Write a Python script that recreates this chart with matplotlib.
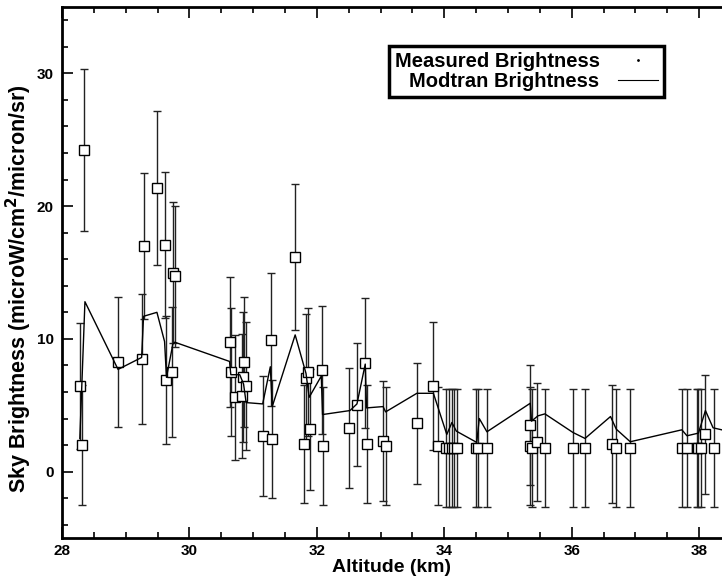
import matplotlib
matplotlib.use("Agg")
import matplotlib.pyplot as plt
from matplotlib.ticker import MultipleLocator
from matplotlib.lines import Line2D

plt.rcParams['font.family'] = ['Liberation Sans', 'DejaVu Sans']
plt.rcParams['font.weight'] = 'bold'

# Measured brightness (altitude km, brightness, symmetric error)
meas_x = [28.28, 28.31, 28.35, 28.88, 29.25, 29.28, 29.49, 29.62, 29.64, 29.72,
          29.74, 29.77, 30.63, 30.65, 30.72, 30.82, 30.84, 30.86, 30.89, 31.15,
          31.28, 31.30, 31.66, 31.80, 31.83, 31.86, 31.89, 32.08, 32.09, 32.51,
          32.63, 32.76, 32.78, 33.04, 33.08, 33.58, 33.82, 33.90, 34.03, 34.08,
          34.12, 34.15, 34.20, 34.50, 34.53, 34.67, 35.34, 35.34, 35.37, 35.46,
          35.58, 36.02, 36.21, 36.63, 36.70, 36.92, 37.73, 37.81, 37.96, 37.99,
          38.03, 38.09, 38.24]
meas_y = [6.45, 2.0, 24.2, 8.25, 8.5, 17.0, 21.4, 17.1, 6.9, 7.5,
          15.0, 14.7, 9.75, 7.5, 5.6, 5.7, 7.1, 8.25, 6.45, 2.7,
          9.95, 2.45, 16.2, 2.05, 7.05, 7.5, 3.2, 7.65, 1.9, 3.3,
          5.05, 8.2, 2.1, 2.3, 1.9, 3.65, 6.45, 1.9, 1.8, 1.8,
          1.8, 1.8, 1.8, 1.8, 1.8, 1.8, 3.5, 1.95, 1.8, 2.2,
          1.8, 1.75, 1.75, 2.05, 1.75, 1.75, 1.75, 1.75, 1.75, 1.75,
          1.75, 2.8, 1.75]
meas_err = [4.75, 4.5, 6.1, 4.9, 4.9, 5.5, 5.8, 5.5, 4.8, 4.9,
            5.3, 5.3, 4.9, 4.85, 4.7, 4.7, 4.9, 4.9, 4.8, 4.5,
            5.0, 4.45, 5.5, 4.45, 4.85, 4.85, 4.55, 4.85, 4.45, 4.5,
            4.65, 4.9, 4.45, 4.5, 4.45, 4.55, 4.8, 4.45, 4.45, 4.45,
            4.45, 4.45, 4.45, 4.45, 4.45, 4.45, 4.5, 4.45, 4.45, 4.45,
            4.45, 4.45, 4.45, 4.45, 4.45, 4.45, 4.45, 4.45, 4.45, 4.45,
            4.45, 4.5, 4.45]

# Modtran model brightness
mod_x = [28.28, 28.36, 28.88, 29.25, 29.28, 29.49, 29.61, 29.64, 29.74, 29.77,
         30.63, 30.65, 30.79, 30.85, 30.89, 31.15, 31.27, 31.30, 31.66, 31.83,
         31.88, 32.07, 32.09, 32.52, 32.63, 32.76, 32.78, 33.04, 33.08, 33.57,
         33.83, 34.04, 34.12, 34.19, 34.51, 34.55, 34.67, 35.35, 35.37, 35.47,
         35.58, 36.02, 36.21, 36.61, 36.70, 36.92, 37.73, 37.81, 37.99, 38.10,
         38.22, 38.40]
mod_y = [2.5, 12.8, 7.7, 8.6, 11.7, 12.0, 9.8, 7.1, 9.6, 9.75,
         8.3, 7.3, 7.3, 6.6, 5.2, 5.1, 7.9, 4.9, 10.3, 7.4,
         5.6, 7.2, 4.3, 4.6, 5.1, 8.1, 4.8, 4.9, 4.5, 5.9,
         5.9, 2.8, 3.7, 3.05, 2.2, 4.0, 3.0, 5.15, 3.8, 4.2,
         4.35, 2.95, 2.5, 4.15, 3.2, 2.25, 3.15, 2.7, 2.9, 4.6,
         3.3, 3.1]

x_ticks = [28, 30, 32, 34, 36, 38]
y_ticks = [0, 10, 20, 30]

fig = plt.figure(figsize=(7.22, 5.82), dpi=100)
ax = fig.add_axes([62/722, 44/582, 660/722, 531/582])

ax.errorbar(meas_x, meas_y, yerr=meas_err, fmt='none', ecolor='#222222',
            elinewidth=1.0, capsize=3, capthick=1.0, zorder=2)
ax.plot(meas_x, meas_y, linestyle='none', marker='s', markersize=6.5,
        markerfacecolor='white', markeredgecolor='black', markeredgewidth=1.0,
        zorder=3)
ax.plot(mod_x, mod_y, color='black', linewidth=1.0, zorder=4)

ax.set_xlim(28, 38.36)
ax.set_ylim(-5, 35)
ax.set_xticks(x_ticks)
ax.set_yticks(y_ticks)
ax.xaxis.set_minor_locator(MultipleLocator(0.5))
ax.yaxis.set_minor_locator(MultipleLocator(2))
ax.tick_params(which='both', direction='in', top=True, right=False,
               labelsize=11, width=1.2)
ax.tick_params(which='major', length=8)
ax.tick_params(which='minor', length=4)
ax.tick_params(axis='y', pad=6)
ax.tick_params(axis='x', pad=4)
for lab in ax.get_xticklabels() + ax.get_yticklabels():
    lab.set_fontweight('bold')

for s in ['left', 'bottom', 'top']:
    ax.spines[s].set_linewidth(2.0)
ax.spines['right'].set_visible(False)

ax.set_xlabel('Altitude (km)', fontsize=14, fontweight='bold', labelpad=1)
ax.set_ylabel('Sky Brightness (microW/cm$^\\mathbf{2}$/micron/sr)', fontsize=15.5,
              fontweight='bold')
ax.yaxis.set_label_coords(-28/660, 0.47)

h1 = Line2D([], [], linestyle='none', marker='.', markersize=2, color='black')
h2 = Line2D([], [], color='black', linewidth=0.8)
leg = ax.legend([h1, h2], ['Measured Brightness', 'Modtran Brightness'],
                loc='upper right', bbox_to_anchor=((664-62)/660, (538-46)/531),
                markerfirst=False, fancybox=False, framealpha=1,
                edgecolor='black', fontsize=14.5, handlelength=2.0,
                handletextpad=0.9, borderpad=0.3, labelspacing=0.05,
                borderaxespad=0)
leg.get_frame().set_linewidth(2.5)
for t in leg.get_texts():
    t.set_fontweight('bold')

fig.savefig('out.png', dpi=100)
